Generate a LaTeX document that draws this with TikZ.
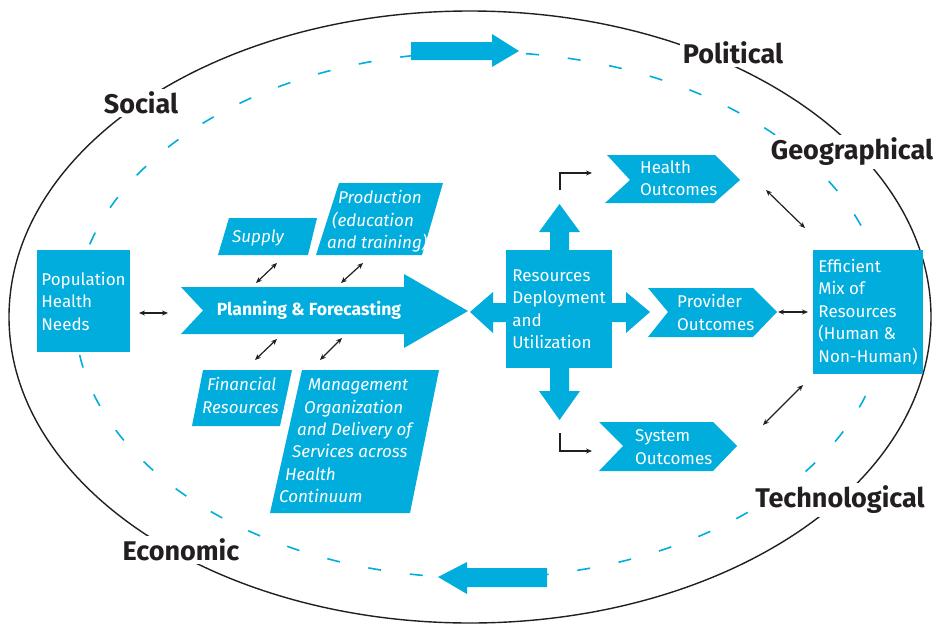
\documentclass[tikz,border=0pt]{standalone}
\usepackage{fontspec}
\setmainfont{Fira Sans}
\usetikzlibrary{arrows.meta,positioning}
\definecolor{hrcyan}{HTML}{00ADDC}
\definecolor{hrink}{HTML}{231F20}

\begin{document}
\begin{tikzpicture}[x=1pt, y=-1pt,
  shade/.style={fill=hrcyan, draw=none},
  box/.style={shade, text=white, align=left, inner sep=0pt, font=\fontsize{17}{22.5}\selectfont},
  label/.style={text=white, align=left, inner sep=0pt, anchor=west, font=\fontsize{17}{22.5}\selectfont},
  slant/.style={label, font=\fontsize{17}{22.4}\selectfont\itshape},
  force/.style={text=hrink, fill=white, inner sep=3pt, font=\fontsize{27}{30}\selectfont\bfseries},
  link/.style={{Stealth[length=6pt,width=5pt]}-{Stealth[length=6pt,width=5pt]}, line width=1.2pt, hrink},
  elbow/.style={-{Stealth[length=6pt,width=5pt]}, line width=1.2pt, hrink},
]
\useasboundingbox (0,0) rectangle (939,627);

% environment rings
\draw[hrink, line width=1.4pt] (470,317) ellipse [x radius=461, y radius=306];
\draw[hrcyan, line width=1.6pt, dash pattern=on 13pt off 29pt] (480,315) ellipse [x radius=405, y radius=263];

% cycle arrows
\fill[hrcyan] (411,42) -- (492,42) -- (492,34) -- (519,51) -- (492,67) -- (492,60) -- (411,60) -- cycle;
\fill[hrcyan] (547,568) -- (467,568) -- (467,562) -- (438,577) -- (467,594) -- (467,587) -- (547,587) -- cycle;

% forces
\node[force] (social) at (141,103) {Social};
\node[force] (political) at (733,53) {Political};
\node[force] (geo) at (852,152) {Geographical};
\node[force] (tech) at (840,500) {Technological};
\node[force] (economic) at (181,550) {Economic};

% left side
\node[box, minimum width=93, minimum height=102] (needs) at (83.5,301) {Population\\Health\\Needs};

\fill[shade] (181,287) -- (404,287) -- (404,274) -- (468,311) -- (404,348) -- (404,334) -- (181,334) -- (203,310.5) -- cycle;
\node[label, anchor=center, font=\fontsize{17.6}{20}\selectfont\bfseries] (plan) at (309,310) {Planning \& Forecasting};

\fill[shade] (229,218) -- (317,218) -- (308,255) -- (218,255) -- cycle;
\node[slant] (supply) at (232,238) {Supply};
\fill[shade] (339,183) -- (443,183) -- (422,255) -- (316,255) -- cycle;
\node[slant] (production) at (327,221.5) {\hspace*{11pt}Production\\\hspace*{5pt}(education\\and training)};
\fill[shade] (203,370) -- (292,370) -- (280,426) -- (192,426) -- cycle;
\node[slant] (finance) at (202,395.5) {\hspace*{5pt}Financial\\Resources};
\fill[shade] (302,370) -- (439,370) -- (410,513) -- (270,513) -- cycle;
\node[slant] (manage) at (279,441) {\hspace*{29pt}Management\\\hspace*{25pt}Organization\\\hspace*{18pt}and Delivery of\\\hspace*{13pt}Services across\\\hspace*{6pt}Health\\Continuum};

% centre cross
\node[box, minimum width=106, minimum height=118] (deploy) at (559,309) {Resources\\Deployment\\and\\Utilization};
\fill[shade] (550,250) -- (550,232) -- (539,232) -- (559.5,204) -- (580,232) -- (569,232) -- (569,250) -- cycle;
\fill[shade] (550,368) -- (550,391) -- (539,391) -- (559.5,420) -- (580,391) -- (569,391) -- (569,368) -- cycle;
\fill[shade] (506,303) -- (493,303) -- (493,292) -- (470,312) -- (493,333) -- (493,322) -- (506,322) -- cycle;
\fill[shade] (612,303) -- (626,303) -- (626,292) -- (650,312) -- (626,333) -- (626,322) -- (612,322) -- cycle;

% outcomes
\fill[shade] (607,155) -- (715,155) -- (740,180) -- (714,203) -- (605,203) -- (630,180) -- cycle;
\node[label] (health) at (640,178) {Health\\Outcomes};
\fill[shade] (648,288) -- (753,288) -- (777,312) -- (753,337) -- (648,337) -- (668,312) -- cycle;
\node[label] (provider) at (677,312.5) {Provider\\Outcomes};
\fill[shade] (599,422) -- (713,422) -- (737,446) -- (713,471) -- (599,471) -- (623,446) -- cycle;
\node[label] (system) at (635,447) {System\\Outcomes};

\node[box, minimum width=110, minimum height=124] (mix) at (868,312) {Efficient\\Mix of\\Resources\\(Human \&\\Non-Human)};

% connectors
\coordinate (needs-r) at (139,313);
\coordinate (plan-l) at (168,313);
\coordinate (supply-b) at (277,263);
\coordinate (supply-p) at (256,283);
\coordinate (prod-b) at (363,263);
\coordinate (prod-p) at (341,283);
\coordinate (fin-t) at (255,360);
\coordinate (fin-p) at (277,339);
\coordinate (man-t) at (320,360);
\coordinate (man-p) at (342,338);
\coordinate (up-end) at (560,190);
\coordinate (health-l) at (592,173);
\coordinate (down-end) at (560,433);
\coordinate (system-l) at (592,451);
\coordinate (provider-r) at (778,312);
\coordinate (mix-l) at (808,312);
\coordinate (health-r) at (766,190);
\coordinate (mix-tl) at (805,228);
\coordinate (system-r) at (763,425);
\coordinate (mix-bl) at (803,385);

\draw[link] (needs-r) -- (plan-l);
\draw[link] (supply-p) -- (supply-b);
\draw[link] (prod-p) -- (prod-b);
\draw[link] (fin-t) -- (fin-p);
\draw[link] (man-t) -- (man-p);
\draw[elbow] (up-end) |- (health-l);
\draw[elbow] (down-end) |- (system-l);
\draw[link] (provider-r) -- (mix-l);
\draw[link] (health-r) -- (mix-tl);
\draw[link] (system-r) -- (mix-bl);
\end{tikzpicture}
\end{document}
